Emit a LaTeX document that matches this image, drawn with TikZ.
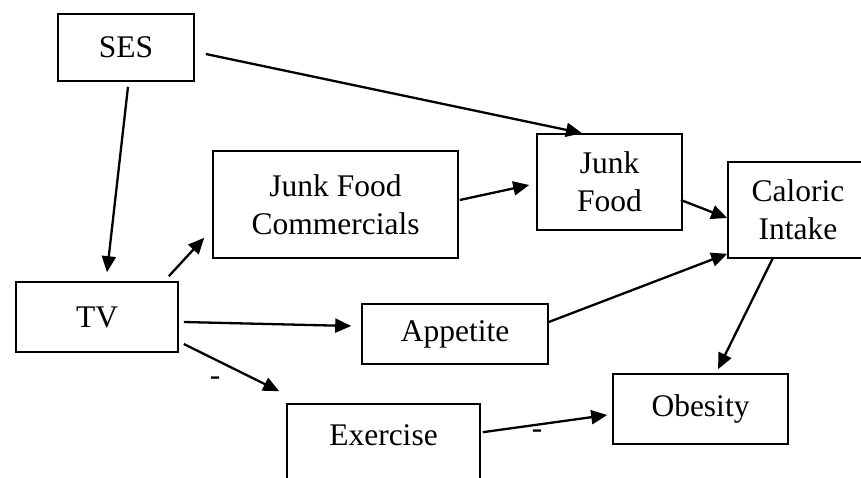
\documentclass[tikz,border=0pt]{standalone}
\usepackage{fontspec}
\setmainfont{Liberation Serif}
\usetikzlibrary{arrows.meta,calc}
\begin{document}
\begin{tikzpicture}[x=1pt,y=-1pt,
  box/.style={draw, line width=1.6pt, inner sep=0pt, align=center, font=\fontsize{31.5}{38}\selectfont},
  lbl/.style={inner sep=0pt, font=\fontsize{31.5}{38}\selectfont},
  arr/.style={line width=2.3pt, -{Triangle[length=16pt,width=14pt]}}]
\useasboundingbox (0,0) rectangle (861,478);
\clip (0,0) rectangle (861,478);
\node[box, minimum width=136, minimum height=67] (ses) at (126,47.5) {SES};
\node[box, minimum width=245, minimum height=107] (jfc) at (335.5,204.5) {Junk Food\\Commercials};
\node[box, minimum width=145, minimum height=96] (jf) at (609.5,182) {Junk\\Food};
\node[box, minimum width=140, minimum height=96] (ci) at (798,210) {Caloric\\Intake};
\node[box, minimum width=162, minimum height=70] (tv) at (97,317) {TV};
\node[box, minimum width=186, minimum height=60] (app) at (455,334) {Appetite};
\node[box, minimum width=175, minimum height=70] (ob) at (700.5,409) {Obesity};
\node[box, minimum width=193, minimum height=100] (ex) at (383.5,454) {};
\node[lbl] (exl) at (383.5,435) {Exercise};
\node[lbl] (m1) at (215,381) {-};
\node[lbl] (m2) at (537,434) {-};
\draw[arr] ($(ses.south)+(2,5)$) -- ($(tv.north)+(10,-9)$);
\draw[arr] ($(ses.east)+(11,6.5)$) -- ($(jf.north)+(-27.5,0)$);
\draw[arr] ($(tv.north east)+(-10,-5)$) -- ($(jfc.south west)+(-8,-21)$);
\draw[arr] ($(tv.east)+(5,5)$) -- ($(app.west)+(-10,-8)$);
\draw[arr] ($(tv.east)+(5,27)$) -- ($(ex.north west)+(-7,-12)$);
\draw[arr] ($(jfc.east)+(1,-4.5)$) -- ($(jf.west)+(-7,3)$);
\draw[arr] ($(jf.east)+(-2,18)$) -- ($(ci.west)+(0,8)$);
\draw[arr] ($(app.east)+(0,-12)$) -- ($(ci.south west)+(0,-5)$);
\draw[arr] ($(ci.south)+(-25,-1)$) -- ($(ob.north)+(17.5,-4)$);
\draw[arr] ($(ex.north east)+(2,29)$) -- ($(ob.west)+(-5,6)$);
\end{tikzpicture}
\end{document}
